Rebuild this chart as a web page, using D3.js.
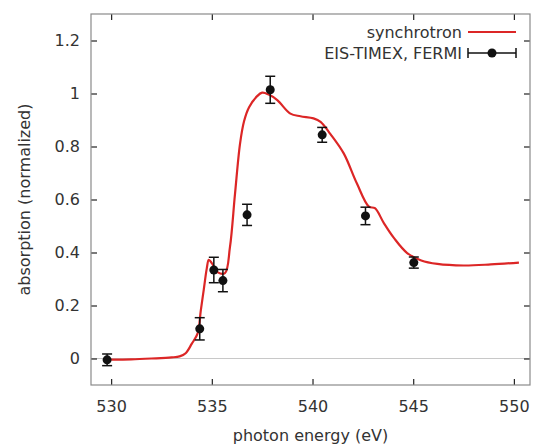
<!DOCTYPE html>
<html>
<head>
<meta charset="utf-8">
<script src="https://cdn.jsdelivr.net/npm/d3@7"></script>
<style>
  body { margin: 0; background: #fff; }
  svg { display: block; }
</style>
</head>
<body>
<div class="chart"></div>
<script>
// synchrotron reference spectrum
const synEnergy = [530.0, 531.0, 532.0, 533.0, 533.4, 533.7, 534.0, 534.3, 534.45, 534.6, 534.75, 534.85,
  535.0, 535.3, 535.65, 535.9, 536.15, 536.4, 536.6, 536.85, 537.25, 537.5, 537.8, 538.25, 538.9,
  539.4, 540.05, 540.4, 540.9, 541.55, 542.2, 542.8, 543.1, 543.55, 544.05, 544.7, 545.4, 546.2,
  547.5, 548.85, 550.25]
const synAbs = [-0.004, -0.003, 0.0, 0.004, 0.008, 0.02, 0.055, 0.096, 0.18, 0.26, 0.34, 0.372,
  0.36, 0.325, 0.322, 0.42, 0.62, 0.81, 0.895, 0.948, 0.99, 1.003, 0.997, 0.975, 0.924,
  0.914, 0.906, 0.893, 0.846, 0.774, 0.661, 0.573, 0.567, 0.51, 0.454, 0.398, 0.37, 0.357,
  0.351, 0.355, 0.362]

// EIS-TIMEX points
const fermiEnergy = [529.8, 534.4, 535.1, 535.55, 536.75, 537.9, 540.48, 542.63, 545.03]
const fermiAbs = [-0.005, 0.112, 0.334, 0.294, 0.542, 1.014, 0.844, 0.538, 0.362]
const fermiErr = [0.022, 0.042, 0.048, 0.042, 0.04, 0.051, 0.028, 0.033, 0.021]

const xTicks = [530, 535, 540, 545, 550]
const yTicks = [0, 0.2, 0.4, 0.6, 0.8, 1, 1.2]

const width = 537
const height = 446
const margin = {left: 91, right: 7, top: 14, bottom: 61}
const font = "DejaVu Sans, sans-serif"
const fontSize = "16px"
const textColor = "#333"

const svg = d3.select(".chart").append("svg")
  .attr("width", width)
  .attr("height", height)

const x = d3.scaleLinear()
  .domain([529, 550.8])
  .range([margin.left, width - margin.right])

const y = d3.scaleLinear()
  .domain([-0.1, 1.3])
  .range([height - margin.bottom, margin.top])

// zero line
svg.append("line")
  .attr("x1", x.range()[0]).attr("x2", x.range()[1])
  .attr("y1", y(0)).attr("y2", y(0))
  .attr("stroke", "#c8c8c8")
  .attr("stroke-width", 1)

// axes with inward ticks on all sides
const tickLen = 6
function styleAxis(g) {
  g.select(".domain").remove()
  g.selectAll(".tick line").attr("stroke", "#222").attr("stroke-width", 1.2)
  g.selectAll(".tick text")
    .style("font-family", font)
    .style("font-size", fontSize)
    .attr("fill", textColor)
}

svg.append("g")
  .attr("transform", "translate(0," + y.range()[0] + ")")
  .call(d3.axisBottom(x).tickValues(xTicks).tickSize(-tickLen).tickPadding(16).tickFormat(d3.format("d")))
  .call(styleAxis)

svg.append("g")
  .attr("transform", "translate(0," + y.range()[1] + ")")
  .call(d3.axisTop(x).tickValues(xTicks).tickSize(-tickLen).tickFormat(""))
  .call(styleAxis)

svg.append("g")
  .attr("transform", "translate(" + x.range()[0] + ",0)")
  .call(d3.axisLeft(y).tickValues(yTicks).tickSize(-tickLen).tickPadding(11).tickFormat(d => d3.format("~g")(d)))
  .call(styleAxis)

svg.append("g")
  .attr("transform", "translate(" + x.range()[1] + ",0)")
  .call(d3.axisRight(y).tickValues(yTicks).tickSize(-tickLen).tickFormat(""))
  .call(styleAxis)

// frame
svg.append("rect")
  .attr("x", x.range()[0])
  .attr("y", y.range()[1])
  .attr("width", x.range()[1] - x.range()[0])
  .attr("height", y.range()[0] - y.range()[1])
  .attr("fill", "none")
  .attr("stroke", "#8a8a8a")
  .attr("stroke-width", 1.2)

// synchrotron curve
const synData = synEnergy.map((e, i) => ({e: e, v: synAbs[i]}))
const line = d3.line()
  .x(d => x(d.e))
  .y(d => y(d.v))
  .curve(d3.curveCatmullRom.alpha(0.5))

svg.append("path")
  .datum(synData)
  .attr("d", line)
  .attr("fill", "none")
  .attr("stroke", "#dc2626")
  .attr("stroke-width", 2.2)
  .attr("stroke-linejoin", "round")

// error bars + points
const fermiData = fermiEnergy.map((e, i) => ({e: e, v: fermiAbs[i], err: fermiErr[i]}))
const cap = 5
const pts = svg.append("g").selectAll("g")
  .data(fermiData)
  .enter()
  .append("g")

pts.append("line")
  .attr("x1", d => x(d.e)).attr("x2", d => x(d.e))
  .attr("y1", d => y(d.v - d.err)).attr("y2", d => y(d.v + d.err))
  .attr("stroke", "#111").attr("stroke-width", 1.5)
pts.append("line")
  .attr("x1", d => x(d.e) - cap).attr("x2", d => x(d.e) + cap)
  .attr("y1", d => y(d.v + d.err)).attr("y2", d => y(d.v + d.err))
  .attr("stroke", "#111").attr("stroke-width", 1.5)
pts.append("line")
  .attr("x1", d => x(d.e) - cap).attr("x2", d => x(d.e) + cap)
  .attr("y1", d => y(d.v - d.err)).attr("y2", d => y(d.v - d.err))
  .attr("stroke", "#111").attr("stroke-width", 1.5)
pts.append("circle")
  .attr("cx", d => x(d.e))
  .attr("cy", d => y(d.v))
  .attr("r", 4.5)
  .attr("fill", "#111")

// Legends
const legX1 = 468
const legX2 = 516
svg.append("text")
  .attr("x", 462).attr("y", 32)
  .attr("dy", "0.35em")
  .style("text-anchor", "end")
  .style("font-family", font)
  .style("font-size", fontSize)
  .attr("fill", textColor)
  .text("synchrotron")
svg.append("line")
  .attr("x1", legX1).attr("x2", legX2)
  .attr("y1", 32).attr("y2", 32)
  .attr("stroke", "#dc2626").attr("stroke-width", 2.2)

svg.append("text")
  .attr("x", 462).attr("y", 53)
  .attr("dy", "0.35em")
  .style("text-anchor", "end")
  .style("font-family", font)
  .style("font-size", fontSize)
  .attr("fill", textColor)
  .text("EIS-TIMEX, FERMI")
svg.append("line")
  .attr("x1", legX1).attr("x2", legX2)
  .attr("y1", 53).attr("y2", 53)
  .attr("stroke", "#111").attr("stroke-width", 1.5)
svg.append("line")
  .attr("x1", legX1).attr("x2", legX1)
  .attr("y1", 48).attr("y2", 58)
  .attr("stroke", "#111").attr("stroke-width", 1.5)
svg.append("line")
  .attr("x1", legX2).attr("x2", legX2)
  .attr("y1", 48).attr("y2", 58)
  .attr("stroke", "#111").attr("stroke-width", 1.5)
svg.append("circle")
  .attr("cx", (legX1 + legX2) / 2).attr("cy", 53)
  .attr("r", 4.5)
  .attr("fill", "#111")

// axis titles
svg.append("text")
  .attr("x", (x.range()[0] + x.range()[1]) / 2)
  .attr("y", 441)
  .style("text-anchor", "middle")
  .style("font-family", font)
  .style("font-size", fontSize)
  .attr("fill", textColor)
  .text("photon energy (eV)")

svg.append("text")
  .attr("transform", "translate(30," + (y.range()[0] + y.range()[1]) / 2 + ") rotate(-90)")
  .style("text-anchor", "middle")
  .style("font-family", font)
  .style("font-size", fontSize)
  .attr("fill", textColor)
  .text("absorption (normalized)")
</script>
</body>
</html>
